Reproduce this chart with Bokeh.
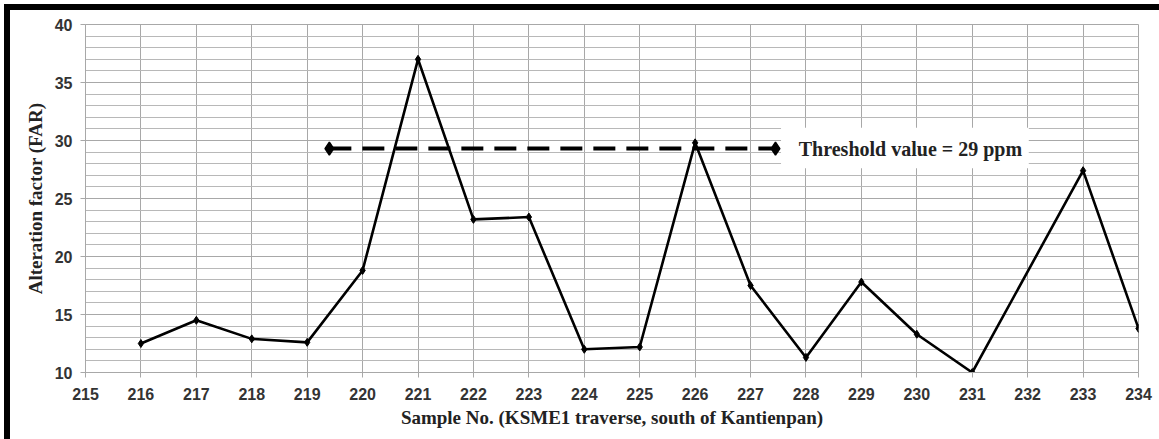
from bokeh.plotting import figure
from bokeh.models import SingleIntervalTicker, ColumnDataSource
from bokeh.core.properties import value
from bokeh.embed import file_html
from bokeh.resources import INLINE

# Data
samples = [216, 217, 218, 219, 220, 221, 222, 223, 224, 225, 226, 227, 228, 229, 230, 231, 233, 234]
far = [12.5, 14.5, 12.9, 12.6, 18.8, 37.0, 23.2, 23.4, 12.0, 12.2, 29.8, 17.5, 11.3, 17.8, 13.3, 10.0, 27.4, 13.8]
threshold_x = [219.4, 227.45]
threshold_y = [29.3, 29.3]
threshold_label = "Threshold value = 29 ppm"
label_box_x = [227.55, 232.02]
label_box_y = [27.6, 31.1]
label_text_x = 227.87

x_title = "Sample No. (KSME1 traverse, south of Kantienpan)"
y_title = "Alteration factor (FAR)"

p = figure(width=1159, height=439, output_backend="svg", toolbar_location=None,
           x_range=(215, 234), y_range=(10, 40),
           min_border_left=85, min_border_right=21, min_border_top=24, min_border_bottom=67)
p.border_fill_color = None
p.background_fill_color = "white"
p.outline_line_color = "#a8a8a8"
p.styles = {
    "background": "linear-gradient(#000,#000) 4px 4px / 1155px 6px no-repeat, "
                  "linear-gradient(#000,#000) 4px 4px / 6px 435px no-repeat, white"
}

p.xaxis.ticker = SingleIntervalTicker(interval=1, num_minor_ticks=0)
p.yaxis.ticker = SingleIntervalTicker(interval=5, num_minor_ticks=5)

for ax in (p.xaxis[0], p.yaxis[0]):
    ax.axis_line_color = "#a8a8a8"
    ax.major_tick_line_color = "#a8a8a8"
    ax.major_tick_out = 5
    ax.major_tick_in = 0
    ax.minor_tick_line_color = None
    ax.major_label_text_font = "Liberation Sans"
    ax.major_label_text_font_style = "bold"
    ax.major_label_text_font_size = "16px"
    ax.major_label_text_color = "#333333"
    ax.axis_label_text_font = "Liberation Serif"
    ax.axis_label_text_font_style = "bold"
    ax.axis_label_text_font_size = "19px"
    ax.axis_label_text_color = "#222222"

p.xaxis.axis_label = x_title
p.yaxis.axis_label = y_title
p.xaxis.major_label_standoff = 10
p.xaxis.axis_label_standoff = 4
p.yaxis.major_label_standoff = 8
p.yaxis.axis_label_standoff = 6

p.xgrid.grid_line_color = "#a8a8a8"
p.ygrid.grid_line_color = "#a8a8a8"
p.ygrid.minor_grid_line_color = "#b8b8b8"

src = ColumnDataSource(dict(x=samples, y=far))
p.line("x", "y", source=src, line_color="black", line_width=2.6)
p.scatter("x", "y", source=src, marker="diamond", size=8, color="black")

# threshold arrow
p.line(threshold_x, threshold_y, line_color="black", line_width=4, line_dash="22 11")
p.scatter(threshold_x, threshold_y, marker="diamond", size=13, fill_color="black",
          line_color="black", line_width=1.5)

# label box and text
p.quad(left=[label_box_x[0]], right=[label_box_x[1]], bottom=[label_box_y[0]], top=[label_box_y[1]],
       fill_color="white", line_color=None)
p.text(x=[label_text_x], y=[threshold_y[0]], text=[threshold_label],
       text_font=value("Liberation Serif"), text_font_style="bold", text_font_size="20px",
       text_baseline="middle", text_align="left", text_color="#222222")

open("out.html", "w").write(file_html(p, INLINE))
